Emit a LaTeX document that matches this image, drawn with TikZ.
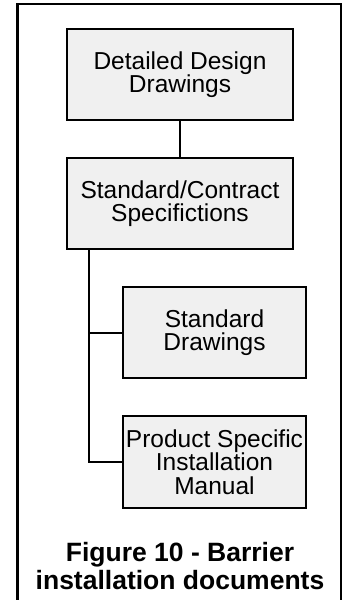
\documentclass[tikz,border=0pt]{standalone}
\usepackage{fontspec}
\setmainfont{Liberation Sans}
\begin{document}
\begin{tikzpicture}[x=1pt, y=-1pt,
    docbox/.style={draw, line width=2.8pt, fill=gray!12, align=center,
        minimum width=#1, minimum height=91pt, inner sep=0pt,
        font=\fontsize{24.5}{23.5}\selectfont},
    link/.style={line width=2.5pt}]
    % Page area and outer frame
    \useasboundingbox (0,0) rectangle (342,600);
    \draw[line width=2.2pt] (17.5,612) |- (341,4) -- (341,612);

    % Main document chain
    \node[docbox=226pt] (detail) at (180,74.5) {Detailed Design\\Drawings};
    \node[docbox=226pt] (spec) at (180,203.5) {Standard/Contract\\Specifictions};
    \draw[link] (detail.south) -- (spec.north);

    % Sub-documents hanging off the side trunk
    \coordinate (trunk) at (89,0);
    \node[docbox=183pt] (stddraw) at (214.5,332.5) {Standard\\Drawings};
    \node[docbox=183pt, minimum height=92pt] (manual) at (214.5,462)
        {Product Specific\\Installation\\Manual};
    \draw[link] (spec.south -| trunk) |- (manual.west);
    \draw[link, line width=2pt] (spec.south -| trunk) |- (stddraw.west);

    % Caption
    \node[align=center, font=\fontsize{26.5}{28}\selectfont\bfseries] (caption)
        at (180,566) {Figure 10 - Barrier\\installation documents};
\end{tikzpicture}
\end{document}
